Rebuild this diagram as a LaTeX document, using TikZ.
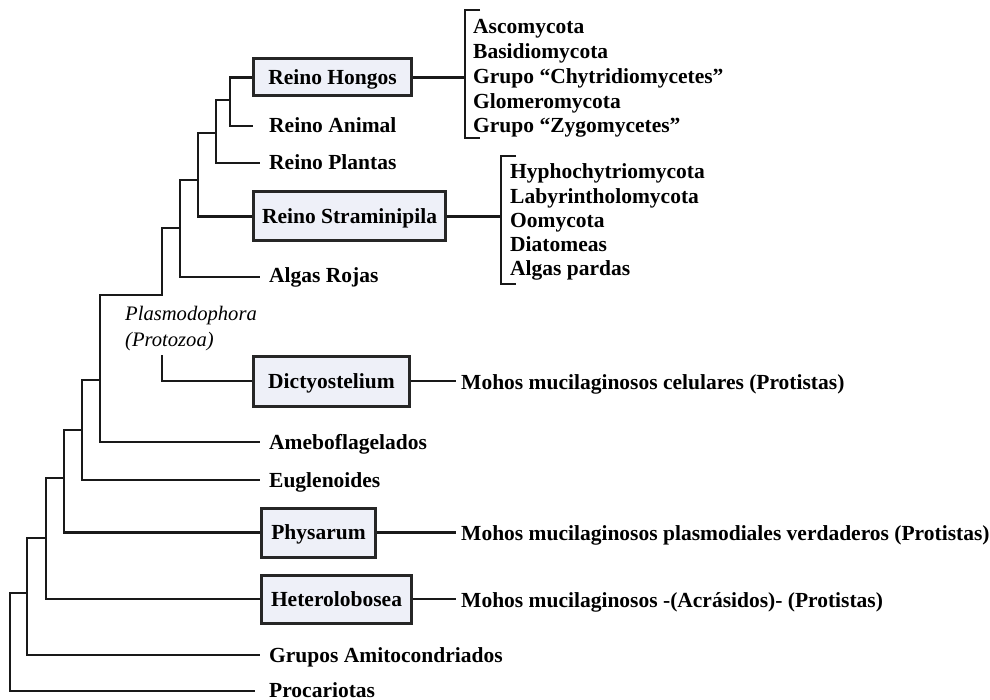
\documentclass[tikz,border=0pt]{standalone}
\usepackage{fontspec}
\setmainfont{Liberation Serif}
\begin{document}
\begin{tikzpicture}[x=1pt,y=-1pt,
  branch/.style={draw=black!90, line width=2.9pt, line join=miter},
  leaf/.style={anchor=base west, inner sep=0pt, font=\fontsize{21.5}{25}\selectfont\bfseries},
  groupbox/.style={draw=black!85, line width=3pt, fill={rgb,255:red,238;green,240;blue,248},
    inner sep=0pt, text height=14.5pt, text depth=0pt, anchor=west,
    font=\fontsize{21.5}{25}\selectfont\bfseries},
  note/.style={anchor=base west, inner sep=0pt, font=\fontsize{20.6}{25}\selectfont\itshape}
]
\useasboundingbox (0,0) rectangle (990,700);

% boxes
\node[groupbox, minimum width=158pt, minimum height=37pt] (hongos) at (252,77.5) {Reino Hongos};
\node[groupbox, minimum width=192pt, minimum height=49pt] (strami) at (252,216.5) {Reino Straminipila};
\node[groupbox, minimum width=156pt, minimum height=50pt] (dicty) at (252,381) {Dictyostelium};
\node[groupbox, minimum width=114pt, minimum height=49pt] (physa) at (260,532.5) {Physarum};
\node[groupbox, minimum width=150pt, minimum height=48pt] (hetero) at (260,599) {Heterolobosea};

% leaves
\node[leaf] (animal) at (269,133) {Reino Animal};
\node[leaf] (plantas) at (269,170) {Reino Plantas};
\node[leaf] (algas) at (269,283) {Algas Rojas};
\node[leaf] (amebo) at (269,449) {Ameboflagelados};
\node[leaf] (eugle) at (269,487) {Euglenoides};
\node[leaf] (amito) at (269,662) {Grupos Amitocondriados};
\node[leaf] (proca) at (269,697) {Procariotas};

\node[leaf] (moh1) at (461,389) {Mohos mucilaginosos celulares (Protistas)};
\node[leaf] (moh2) at (461,540) {Mohos mucilaginosos plasmodiales verdaderos (Protistas)};
\node[leaf] (moh3) at (461,607) {Mohos mucilaginosos -(Acrásidos)- (Protistas)};

\node[note] (plasmo1) at (125,321) {Plasmodophora};
\node[note] (plasmo2) at (125,346) {(Protozoa)};

% lists
\foreach \t [count=\i] in {Ascomycota,Basidiomycota,Grupo ``Chytridiomycetes'',Glomeromycota,Grupo ``Zygomycetes''}
  \node[leaf] (hl\i) at (473,{34+24.75*(\i-1)}) {\t};
\foreach \t [count=\i] in {Hyphochytriomycota,Labyrintholomycota,Oomycota,Diatomeas,Algas pardas}
  \node[leaf] (sl\i) at (510,{179+24.1*(\i-1)}) {\t};

% junction coordinates
\coordinate (J11) at (230,100);
\coordinate (J10) at (216,133);
\coordinate (J9) at (198,180);
\coordinate (J8) at (180,228);
\coordinate (J7) at (162,295);
\coordinate (J7b) at (162,355);
\coordinate (J6) at (100,380);
\coordinate (J5) at (82,430);
\coordinate (J4) at (64,478);
\coordinate (J3) at (46,538);
\coordinate (J2) at (27,593);
\coordinate (J1) at (10,593);
% leaf line ends
\coordinate (animalE) at (253,126);
\coordinate (plantasE) at (260,163);
\coordinate (algasE) at (260,277);
\coordinate (ameboE) at (260,442);
\coordinate (eugleE) at (260,480);
\coordinate (amitoE) at (260,655);
\coordinate (procaE) at (255,691);
\coordinate (m1E) at (456,381);
\coordinate (m2E) at (456,532.5);
\coordinate (m3E) at (456,599);
% brackets
\coordinate (b1t) at (480,10);
\coordinate (b1b) at (480,138);
\coordinate (b1m) at (465,77.5);
\coordinate (b2t) at (516,156);
\coordinate (b2b) at (516,284);
\coordinate (b2m) at (501,216.5);

% tree
\draw[branch] (hongos.west) -| (J11) |- (animalE);
\draw[branch] (J11) -| (J10) |- (plantasE);
\draw[branch] (J10) -| (J9) |- (strami.west);
\draw[branch] (J9) -| (J8) |- (algasE);
\draw[branch] (J8) -| (J7) -| (J6) |- (ameboE);
\draw[branch] (J7b) |- (dicty.west);
\draw[branch] (J6) -| (J5) |- (eugleE);
\draw[branch] (J5) -| (J4) |- (physa.west);
\draw[branch] (J4) -| (J3) |- (hetero.west);
\draw[branch] (J3) -| (J2) |- (amitoE);
\draw[branch] (J2) -- (J1) |- (procaE);

% right side
\draw[branch] (hongos.east) -- (b1m);
\draw[branch] (b1t) -| (b1m) |- (b1b);
\draw[branch] (strami.east) -- (b2m);
\draw[branch] (b2t) -| (b2m) |- (b2b);
\draw[branch] (dicty.east) -- (m1E);
\draw[branch] (physa.east) -- (m2E);
\draw[branch] (hetero.east) -- (m3E);
\end{tikzpicture}
\end{document}
